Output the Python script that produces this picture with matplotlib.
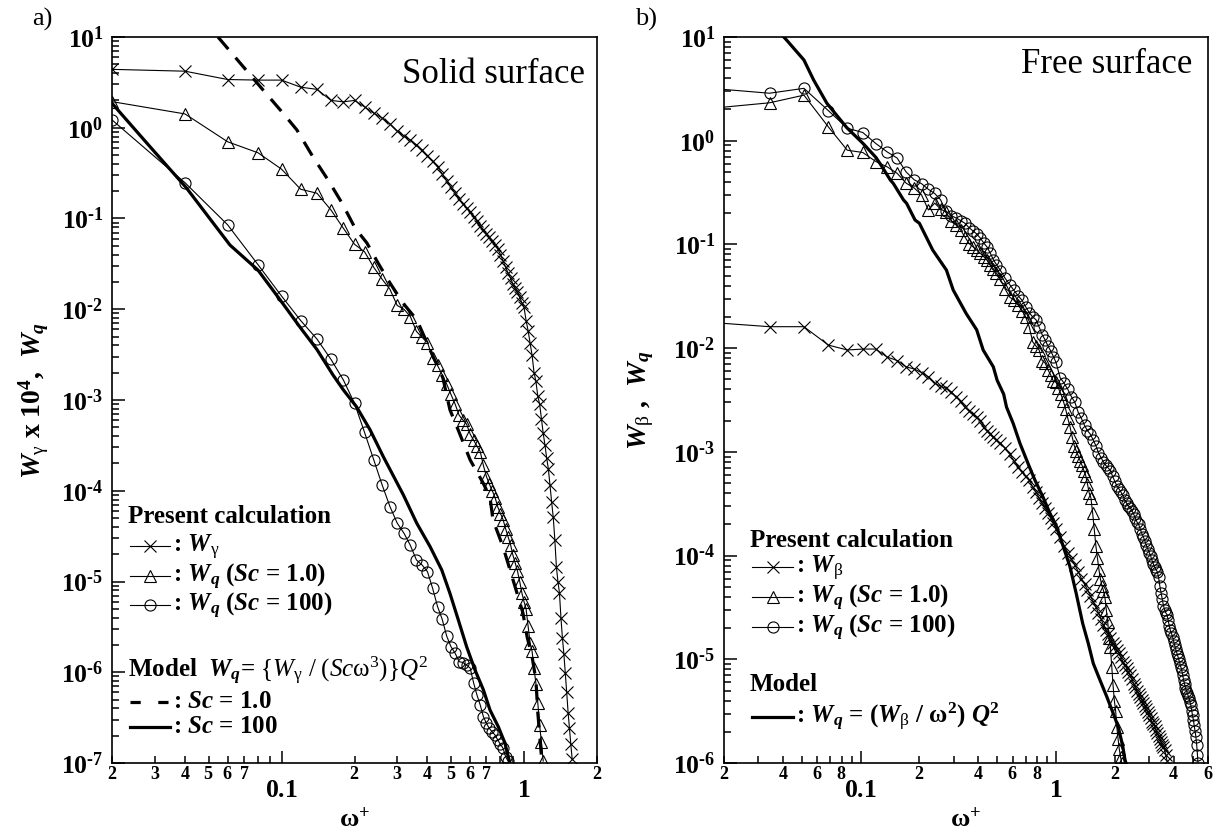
import math
import matplotlib
matplotlib.use('Agg')
import matplotlib.pyplot as plt
from matplotlib.lines import Line2D
from matplotlib.ticker import FixedLocator, FuncFormatter, NullFormatter

plt.rcParams['font.family'] = 'Liberation Serif'
plt.rcParams['mathtext.fontset'] = 'custom'
plt.rcParams['mathtext.rm'] = 'Liberation Serif'
plt.rcParams['mathtext.it'] = 'Liberation Serif:italic'
plt.rcParams['mathtext.bf'] = 'Liberation Serif:bold'
plt.rcParams['mathtext.bfit'] = 'Liberation Serif:italic:bold'

# ---------------- panel a) solid surface ----------------
omega_a = [0.02, 0.04, 0.06, 0.08, 0.10, 0.12, 0.14, 0.16, 0.18, 0.20,
           0.22, 0.24, 0.26, 0.28, 0.30, 0.32, 0.34, 0.36, 0.38, 0.40,
           0.42, 0.44, 0.46, 0.48, 0.50, 0.52, 0.54, 0.56, 0.58, 0.60,
           0.62, 0.64, 0.66, 0.68, 0.70, 0.72, 0.74, 0.76, 0.78, 0.80,
           0.82, 0.84, 0.86, 0.88, 0.90, 0.92, 0.94, 0.96, 0.98, 1.00,
           1.02, 1.04, 1.06, 1.08, 1.10, 1.12, 1.14, 1.16, 1.18, 1.20,
           1.22, 1.24, 1.26, 1.28, 1.30, 1.32, 1.34, 1.36, 1.38, 1.40,
           1.42, 1.44, 1.46, 1.48, 1.50, 1.52, 1.54, 1.56, 1.58]

w_gamma_a = [4.4, 4.2, 3.4, 3.35, 3.35, 2.8, 2.65, 2.0, 1.93, 2.0,
             1.7, 1.45, 1.28, 1.1, 0.92, 0.81, 0.73, 0.65, 0.57, 0.49,
             0.43, 0.37, 0.31, 0.26, 0.22, 0.19, 0.165, 0.145, 0.13, 0.118,
             0.105, 0.093, 0.083, 0.074, 0.068, 0.062, 0.056, 0.051, 0.046, 0.040,
             0.034, 0.029, 0.025, 0.022, 0.019, 0.017, 0.0155, 0.0135, 0.0118, 0.0105,
             0.0075, 0.0058, 0.0042, 0.0031, 0.0020, 0.0016, 0.0011, 9.0e-4, 6.2e-4, 4.3e-4,
             3.2e-4, 2.3e-4, 1.75e-4, 1.15e-4, 7.5e-5, 5.1e-5, 2.9e-5, 1.45e-5, 1.0e-5, 7.5e-6,
             4.0e-6, 2.4e-6, 1.6e-6, 9.8e-7, 6.0e-7, 3.6e-7, 2.4e-7, 1.6e-7, 1.1e-7]

wq_sc1_a = [1.94, 1.42, 0.70, 0.53, 0.35, 0.21, 0.19, 0.124, 0.078, 0.052,
            0.043, 0.029, 0.0214, 0.0166, 0.011, 0.0100, 0.0083, 0.0057, 0.0049, 0.0043,
            0.0029, 0.0024, 0.0019, 0.0015, 0.00115, 0.00090, 0.00068, 0.00060, 0.00054, 0.00042,
            0.00036, 0.00031, 0.00027, 0.00019, 0.000143, 0.000118, 0.0001, 8.4e-5, 6.6e-5, 5.6e-5,
            4.8e-5, 3.8e-5, 3.1e-5, 2.55e-5, 1.95e-5, 1.6e-5, 1.3e-5, 1.0e-5, 7.5e-6, 6.0e-6,
            5.0e-6, 3.2e-6, 2.1e-6, 1.7e-6, 1.1e-6, 7.5e-7, 4.6e-7, 2.6e-7, 1.7e-7, 1.05e-7]

wq_sc100_a = [1.22, 0.248, 0.085, 0.031, 0.014, 0.0075, 0.0047, 0.0028, 0.00166, 0.00092,
              0.00044, 0.00022, 0.000116, 6.7e-5, 4.4e-5, 3.4e-5, 2.5e-5, 1.73e-5, 1.52e-5, 1.28e-5,
              8.4e-6, 5.3e-6, 3.83e-6, 2.5e-6, 1.91e-6, 1.62e-6, 1.31e-6, 1.28e-6, 1.2e-6, 1.11e-6,
              7.6e-7, 5.6e-7, 4.35e-7, 3.24e-7, 2.73e-7, 2.4e-7, 2.2e-7, 2.03e-7, 1.79e-7, 1.6e-7,
              1.45e-7, 1.17e-7, 1.05e-7]

omega_model1_a = [0.0547, 0.0839, 0.1014, 0.1158, 0.1349, 0.1556, 0.1776, 0.201, 0.225, 0.25,
                  0.28, 0.317, 0.362, 0.41, 0.463, 0.495, 0.53, 0.60, 0.678, 0.724,
                  0.745, 0.82, 0.875, 0.935, 0.99, 1.03, 1.08, 1.12, 1.14, 1.165, 1.186]
model1_a = [10.0, 2.61, 1.45, 0.944, 0.476, 0.266, 0.148, 0.0786, 0.0537, 0.0324,
            0.0195, 0.0117, 0.0076, 0.00356, 0.00175, 7.8e-4, 5.0e-4, 2.18e-4, 1.22e-4, 8.5e-5,
            4.76e-5, 2.4e-5, 1.35e-5, 7.5e-6, 4.5e-6, 2.45e-6, 1.48e-6, 8.2e-7, 3.6e-7, 1.8e-7, 1.0e-7]

omega_model100_a = [0.02, 0.0287, 0.0404, 0.0613, 0.08, 0.10, 0.12, 0.14, 0.163, 0.18,
                    0.204, 0.232, 0.263, 0.318, 0.361, 0.41, 0.458, 0.495, 0.536, 0.58,
                    0.628, 0.68, 0.724, 0.784, 0.835, 0.861, 0.875]
model100_a = [1.86, 0.618, 0.22, 0.051, 0.027, 0.0121, 0.0062, 0.0036, 0.00189, 0.00129,
              8.4e-4, 4.68e-4, 2.37e-4, 9.0e-5, 4.4e-5, 2.42e-5, 1.34e-5, 7.4e-6, 3.77e-6, 1.91e-6,
              1.06e-6, 6.4e-7, 3.84e-7, 2.5e-7, 1.65e-7, 1.17e-7, 1.0e-7]

# ---------------- panel b) free surface ----------------
omega_b_low = [0.0171, 0.0342, 0.0513, 0.0684, 0.0855, 0.1026, 0.1197, 0.1368, 0.1539, 0.171,
               0.1881, 0.2052, 0.2223, 0.2394, 0.2565, 0.2736, 0.2907, 0.3078, 0.3249, 0.342,
               0.3591, 0.3762, 0.3933, 0.4104, 0.4275, 0.4446, 0.4617, 0.4788, 0.4959,
               0.52, 0.55, 0.58, 0.61, 0.64, 0.67, 0.70, 0.73, 0.76, 0.79,
               0.82, 0.85, 0.88, 0.91, 0.94, 0.97]

omega_circ_b = omega_b_low + [
    1.00, 1.05, 1.10, 1.15, 1.20, 1.25, 1.30, 1.35, 1.40, 1.45,
    1.50, 1.55, 1.60, 1.65, 1.70, 1.75, 1.80, 1.85, 1.90, 1.95,
    2.00, 2.05, 2.10, 2.15, 2.20, 2.25, 2.30, 2.35, 2.40, 2.45,
    2.50, 2.55, 2.60, 2.65, 2.70, 2.75, 2.80, 2.85, 2.90, 2.95,
    3.00, 3.05, 3.10, 3.15, 3.20, 3.25, 3.30, 3.35, 3.40, 3.45,
    3.50, 3.55, 3.60, 3.65, 3.70, 3.75, 3.80, 3.85, 3.90, 3.95,
    4.00, 4.05, 4.10, 4.15, 4.20, 4.25, 4.30, 4.35, 4.40, 4.45,
    4.50, 4.55, 4.60, 4.65, 4.70, 4.75, 4.80, 4.85, 4.90, 4.95,
    5.00, 5.05, 5.10, 5.15, 5.20, 5.25, 5.30, 5.33]
wq_sc100_b = [3.2, 2.87, 3.2, 1.95, 1.32, 1.2, 0.94, 0.78, 0.68, 0.50,
              0.42, 0.385, 0.34, 0.31, 0.27, 0.21, 0.19, 0.18, 0.17, 0.16,
              0.145, 0.135, 0.126, 0.115, 0.103, 0.094, 0.082, 0.071, 0.064,
              0.056, 0.047, 0.041, 0.036, 0.032, 0.029, 0.025, 0.022, 0.020, 0.0188,
              0.016, 0.0135, 0.012, 0.0105, 0.0094, 0.0083,
              0.0073, 0.0052, 0.0046, 0.0040, 0.0034, 0.0030, 0.0024, 0.0021, 0.0018, 0.0016,
              0.00148, 0.0013, 0.00115, 0.00098, 0.00088, 0.00080, 0.00074, 0.00070, 0.00066, 0.00058,
              0.00052, 0.00047, 0.00044, 0.00041, 0.00038, 0.00034, 0.00032, 0.00030, 0.00029, 0.00027,
              0.00025, 0.00023, 0.00021, 0.00020, 0.00018, 0.000163, 0.000152, 0.000138, 0.000126, 0.000116,
              0.000107, 0.0001, 9.0e-5, 8.3e-5, 7.7e-5, 7.3e-5, 7.0e-5, 6.2e-5, 5.1e-5, 4.4e-5,
              3.8e-5, 3.3e-5, 3.0e-5, 2.8e-5, 2.7e-5, 2.4e-5, 2.1e-5, 1.9e-5, 1.78e-5, 1.65e-5,
              1.5e-5, 1.37e-5, 1.25e-5, 1.16e-5, 1.08e-5, 1.0e-5, 9.2e-6, 8.5e-6, 7.9e-6, 7.1e-6,
              6.3e-6, 5.8e-6, 5.3e-6, 5.0e-6, 4.7e-6, 4.45e-6, 4.2e-6, 3.9e-6, 3.6e-6, 3.2e-6,
              2.9e-6, 2.6e-6, 2.3e-6, 2.05e-6, 1.8e-6, 1.5e-6, 1.2e-6, 1.0e-6]

omega_tri_b = omega_b_low + [
    1.00, 1.03, 1.06, 1.09, 1.12, 1.15, 1.18, 1.21, 1.24, 1.27,
    1.30, 1.33, 1.36, 1.39, 1.42, 1.45, 1.48, 1.51, 1.54, 1.57,
    1.60, 1.63, 1.66, 1.69, 1.72, 1.75, 1.78, 1.81, 1.84, 1.87,
    1.90, 1.93, 1.96, 1.99, 2.02, 2.05, 2.08, 2.11, 2.14, 2.17]
wq_sc1_b = [2.05, 2.32, 2.75, 1.36, 0.81, 0.77, 0.63, 0.56, 0.485, 0.39,
            0.35, 0.30, 0.215, 0.25, 0.22, 0.205, 0.17, 0.155, 0.138, 0.118,
            0.102, 0.095, 0.088, 0.082, 0.076, 0.070, 0.063, 0.058, 0.053,
            0.046, 0.037, 0.031, 0.029, 0.026, 0.023, 0.020, 0.016, 0.0115, 0.0105,
            0.0096, 0.0076, 0.0072, 0.0062, 0.0055, 0.0048,
            0.0047, 0.0041, 0.0036, 0.0031, 0.0026, 0.0021, 0.00175, 0.0014, 0.00115, 0.00102,
            0.00092, 0.00082, 0.00074, 0.00066, 0.00059, 0.00049, 0.00040, 0.00036, 0.00026, 0.00018,
            0.000125, 9.5e-5, 7.3e-5, 5.9e-5, 5.1e-5, 4.6e-5, 4.0e-5, 3.0e-5, 2.3e-5, 1.6e-5,
            1.3e-5, 8.5e-6, 5.6e-6, 4.0e-6, 3.2e-6, 2.2e-6, 1.7e-6, 1.35e-6, 1.15e-6, 1.0e-6]

omega_cross_b = omega_b_low + [
    1.00, 1.05, 1.10, 1.15, 1.20, 1.25, 1.30, 1.35, 1.40, 1.45,
    1.50, 1.55, 1.60, 1.65, 1.70, 1.75, 1.80, 1.85, 1.90, 1.95,
    2.00, 2.05, 2.10, 2.15, 2.20, 2.25, 2.30, 2.35, 2.40, 2.45,
    2.50, 2.55, 2.60, 2.65, 2.70, 2.75, 2.80, 2.85, 2.90, 2.95,
    3.00, 3.05, 3.10, 3.15, 3.20, 3.25, 3.30, 3.35, 3.40, 3.45,
    3.50, 3.55, 3.60, 3.65, 3.70]
w_beta_b = [0.0177, 0.0161, 0.0161, 0.0107, 0.0096, 0.0098, 0.0098, 0.0082, 0.0076, 0.0066,
            0.0063, 0.0058, 0.0053, 0.0046, 0.0043, 0.0041, 0.0038, 0.0034, 0.0031, 0.0027,
            0.0025, 0.0023, 0.00218, 0.0020, 0.00175, 0.0016, 0.0015, 0.0014, 0.0013,
            0.00121, 0.00108, 0.00095, 0.00082, 0.00072, 0.00064, 0.00058, 0.00053, 0.00046, 0.00041,
            0.00036, 0.00032, 0.00029, 0.00026, 0.000232, 0.000205,
            0.00018, 0.00015, 0.000125, 0.000107, 9.3e-5, 8.1e-5, 7.0e-5, 6.0e-5, 5.3e-5, 4.7e-5,
            4.1e-5, 3.6e-5, 3.2e-5, 2.8e-5, 2.45e-5, 2.15e-5, 1.91e-5, 1.75e-5, 1.6e-5, 1.45e-5,
            1.33e-5, 1.24e-5, 1.15e-5, 1.05e-5, 9.5e-6, 8.8e-6, 8.2e-6, 7.6e-6, 7.0e-6, 6.4e-6,
            5.8e-6, 5.4e-6, 5.0e-6, 4.6e-6, 4.3e-6, 4.05e-6, 3.8e-6, 3.55e-6, 3.3e-6, 3.1e-6,
            2.9e-6, 2.7e-6, 2.5e-6, 2.38e-6, 2.25e-6, 2.1e-6, 1.95e-6, 1.82e-6, 1.7e-6, 1.6e-6,
            1.5e-6, 1.42e-6, 1.33e-6, 1.2e-6, 1.05e-6]

omega_model_b = [0.0395, 0.0418, 0.0513, 0.0575, 0.0672, 0.0849, 0.103, 0.119, 0.1256, 0.142,
                 0.147, 0.166, 0.172, 0.19, 0.2, 0.234, 0.275, 0.298, 0.347, 0.393,
                 0.424, 0.478, 0.50, 0.54, 0.5585, 0.604, 0.654, 0.72, 0.78, 0.857,
                 0.932, 1.008, 1.09, 1.18, 1.27, 1.37, 1.464, 1.553, 1.68, 1.82,
                 1.965, 2.084, 2.2, 2.27]
model_b = [10.5, 9.35, 6.0, 3.85, 2.3, 1.34, 0.94, 0.70, 0.605, 0.418,
           0.388, 0.268, 0.249, 0.172, 0.16, 0.0883, 0.0566, 0.0363, 0.0216, 0.015,
           0.0096, 0.0066, 0.0049, 0.0036, 0.0027, 0.00188, 0.00121, 7.7e-4, 5.35e-4, 3.69e-4,
           2.55e-4, 1.9e-4, 1.22e-4, 7.8e-5, 4.3e-5, 2.22e-5, 1.42e-5, 9.1e-6, 6.3e-6, 4.36e-6,
           3.0e-6, 2.23e-6, 1.43e-6, 1.0e-6]

minor_labels_a = [0.02, 0.03, 0.04, 0.05, 0.06, 0.07, 0.2, 0.3, 0.4, 0.5, 0.6, 0.7, 2.0]
minor_labels_b = [0.02, 0.04, 0.06, 0.08, 0.2, 0.4, 0.6, 0.8, 2.0, 4.0, 6.0]

W = 1223
H = 838
LEG_FS = 18


def style_axis(ax, xlim, ylim, labelled):
    ax.set_xscale('log')
    ax.set_yscale('log')
    ax.set_xlim(*xlim)
    ax.set_ylim(*ylim)
    for s in ax.spines.values():
        s.set_linewidth(1.2)

    e0 = int(round(math.log10(ylim[0])))
    e1 = int(round(math.log10(ylim[1])))
    ax.yaxis.set_major_locator(FixedLocator([10.0 ** e for e in range(e0, e1 + 1)]))

    def yfmt(v, p):
        e = int(round(math.log10(v)))
        s = str(e).replace('-', '\u2010')
        return r'$\mathbf{10^{%s}}$' % s
    ax.yaxis.set_major_formatter(FuncFormatter(yfmt))
    yminor = [m * 10.0 ** e for e in range(e0, e1) for m in range(2, 10)]
    ax.yaxis.set_minor_locator(FixedLocator(yminor))
    ax.yaxis.set_minor_formatter(NullFormatter())

    ax.xaxis.set_major_locator(FixedLocator([0.1, 1.0]))
    ax.xaxis.set_major_formatter(FuncFormatter(
        lambda v, p: r'$\mathbf{%s}$' % ('0.1' if v < 0.5 else '1')))
    xminor = [m * 10.0 ** e for e in range(-2, 1) for m in range(2, 10)]
    xminor = [v for v in xminor if xlim[0] * 0.999 <= v <= xlim[1] * 1.001]
    ax.xaxis.set_minor_locator(FixedLocator(xminor))

    def minor_fmt(v, p):
        for l in labelled:
            if abs(v - l) < 1e-6 * l + 1e-9:
                lead = int(round(v / 10 ** math.floor(math.log10(v) + 1e-9)))
                return r'$\mathbf{%d}$' % lead
        return ''
    ax.xaxis.set_minor_formatter(FuncFormatter(minor_fmt))

    ax.tick_params(which='both', direction='in', top=False, right=False, width=1.1)
    ax.tick_params(axis='y', which='major', length=9, labelsize=18.5, pad=6)
    ax.tick_params(axis='y', which='minor', length=5)
    ax.tick_params(axis='x', which='major', length=9, labelsize=18.5, pad=12)
    ax.tick_params(axis='x', which='minor', length=5, labelsize=13, pad=2)


def legend_row(fig, x0, y, line, text, length=40):
    # sample of a plotted line followed by its label, positions in figure pixels
    xs = [x0 / W, (x0 + length / 2) / W, (x0 + length) / W]
    ys = [1 - (y - 6) / H] * 3
    sample = Line2D(xs, ys, transform=fig.transFigure, color='black',
                    linewidth=line.get_linewidth(), linestyle=line.get_linestyle(),
                    marker=line.get_marker(), markersize=line.get_markersize(),
                    markerfacecolor='none', markeredgecolor='black',
                    markeredgewidth=line.get_markeredgewidth(), markevery=[1])
    if line.get_linestyle() == '--':
        sample.set_dashes((3.2, 5.5))
    fig.add_artist(sample)
    fig.text((x0 + length + 3) / W, 1 - y / H, text, fontsize=LEG_FS,
             fontweight='bold', va='baseline', ha='left')


fig = plt.figure(figsize=(W / 100, H / 100), dpi=100)
ax_a = fig.add_axes([112 / W, 75 / H, 485 / W, 726 / H])
ax_b = fig.add_axes([724 / W, 75 / H, 484 / W, 726 / H])

data_kw = dict(color='black', linewidth=0.8, markerfacecolor='none',
               markeredgecolor='black', markeredgewidth=0.8)

# panel a
h_cross, = ax_a.plot(omega_a, w_gamma_a, marker='x', markersize=8, **data_kw)
h_tri, = ax_a.plot(omega_a[:len(wq_sc1_a)], wq_sc1_a, marker='^', markersize=8, **data_kw)
h_circ, = ax_a.plot(omega_a[:len(wq_sc100_a)], wq_sc100_a, marker='o', markersize=8, **data_kw)
h_m1, = ax_a.plot(omega_model1_a, model1_a, color='black', linewidth=2.3, linestyle='--',
                  dashes=(5, 3.5))
h_m100, = ax_a.plot(omega_model100_a, model100_a, color='black', linewidth=2.3)

style_axis(ax_a, (0.02, 2.0), (1e-7, 1e1), minor_labels_a)

fig.text(128 / W, 1 - 523 / H, 'Present calculation', fontsize=LEG_FS,
         fontweight='bold', va='baseline')
legend_row(fig, 130, 552, h_cross, r': $\mathbfit{W}_{\mathrm{\gamma}}$')
legend_row(fig, 130, 582, h_tri, r': $\mathbfit{W}_{\mathbfit{q}}$ ($\mathbfit{Sc}$ = 1.0)')
legend_row(fig, 130, 611, h_circ, r': $\mathbfit{W}_{\mathbfit{q}}$ ($\mathbfit{Sc}$ = 100)')
fig.text(128 / W, 1 - 677 / H,
         r'Model  $\mathbfit{W}_{\mathbfit{q}}$= '
         r'$\mathrm{\{}\mathit{W}_{\mathrm{\gamma}}\ \mathrm{/}\ '
         r'\mathrm{(}\mathit{Sc}\mathrm{\omega}^{\mathit{3}}\mathrm{)\}}\mathit{Q}^{\mathit{2}}$',
         fontsize=LEG_FS, fontweight='bold', va='baseline')
legend_row(fig, 130, 708, h_m1, r': $\mathbfit{Sc}$ = 1.0')
legend_row(fig, 130, 733, h_m100, r': $\mathbfit{Sc}$ = 100')

ax_a.text(0.975, 0.9366, 'Solid surface', transform=ax_a.transAxes,
          ha='right', va='baseline', fontsize=25)
ax_a.set_ylabel(r'$\mathbfit{W}_{\mathrm{\gamma}}$ x 10$^{\mathbf{4}}$,  $\mathbfit{W}_{\mathbfit{q}}$',
                fontsize=20, fontweight='bold')
ax_a.yaxis.set_label_coords(-0.125, 0.5)
ax_a.set_xlabel(r'$\mathbf{\omega}^{\mathbf{+}}$', fontsize=19)
ax_a.xaxis.set_label_coords(0.5, -0.062)

# panel b
hb_cross, = ax_b.plot(omega_cross_b, w_beta_b, marker='x', markersize=8, **data_kw)
hb_tri, = ax_b.plot(omega_tri_b, wq_sc1_b, marker='^', markersize=8, **data_kw)
hb_circ, = ax_b.plot(omega_circ_b, wq_sc100_b, marker='o', markersize=8, **data_kw)
hb_m, = ax_b.plot(omega_model_b, model_b, color='black', linewidth=2.3)

style_axis(ax_b, (0.02, 6.0), (1e-6, 1e1), minor_labels_b)

fig.text(750 / W, 1 - 547 / H, 'Present calculation', fontsize=LEG_FS,
         fontweight='bold', va='baseline')
legend_row(fig, 752, 573, hb_cross, r': $\mathbfit{W}_{\mathrm{\beta}}$', length=41)
legend_row(fig, 752, 603, hb_tri, r': $\mathbfit{W}_{\mathbfit{q}}$ ($\mathbfit{Sc}$ = 1.0)', length=41)
legend_row(fig, 752, 633, hb_circ, r': $\mathbfit{W}_{\mathbfit{q}}$ ($\mathbfit{Sc}$ = 100)', length=41)
fig.text(750 / W, 1 - 691 / H, 'Model', fontsize=LEG_FS, fontweight='bold', va='baseline')
legend_row(fig, 752, 723, hb_m,
           r': $\mathbfit{W}_{\mathbfit{q}}$ = ($\mathbfit{W}_{\mathrm{\beta}}$ / '
           r'$\mathbf{\omega}^{\mathbf{2}}$) $\mathbfit{Q}^{\mathbf{2}}$', length=41)

ax_b.text(0.967, 0.9504, 'Free surface', transform=ax_b.transAxes,
          ha='right', va='baseline', fontsize=25)
ax_b.set_ylabel(r'$\mathbfit{W}_{\mathrm{\beta}}$ ,  $\mathbfit{W}_{\mathbfit{q}}$',
                fontsize=20, fontweight='bold')
ax_b.yaxis.set_label_coords(-0.14, 0.5)
ax_b.set_xlabel(r'$\mathbf{\omega}^{\mathbf{+}}$', fontsize=19)
ax_b.xaxis.set_label_coords(0.5, -0.062)

fig.text(32 / W, 1 - 8 / H, 'a)', ha='left', va='top', fontsize=19)
fig.text(635 / W, 1 - 8 / H, 'b)', ha='left', va='top', fontsize=19)

fig.savefig('out.png', dpi=100)
